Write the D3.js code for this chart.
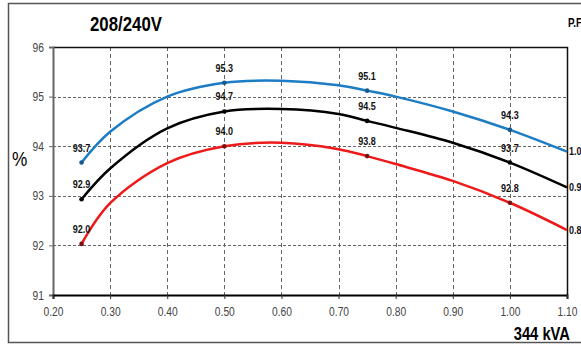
<!DOCTYPE html>
<html>
<head>
<meta charset="utf-8">
<script src="https://cdn.jsdelivr.net/npm/d3@7"></script>
<style>
    body { margin: 0; background: #fff; }
    svg text { font-family: "Liberation Sans Narrow", "Arial Narrow", "Liberation Sans", Arial, sans-serif; }
</style>
</head>
<body>
<svg id="chart" width="581" height="345"></svg>
<script>
const loads = [0.25, 0.30, 0.40, 0.50, 0.60, 0.70, 0.75, 0.80, 0.90, 1.00, 1.10]
// loads that carry a marker and a value label
const labelled = [0.25, 0.50, 0.75, 1.00]

// efficiency % per power factor
const pf10 = [93.67, 94.29, 95.00, 95.28, 95.32, 95.23, 95.12, 95.00, 94.70, 94.33, 93.89]
const pf09 = [92.93, 93.55, 94.36, 94.70, 94.75, 94.65, 94.51, 94.37, 94.07, 93.67, 93.17]
const pf08 = [92.03, 92.85, 93.66, 94.00, 94.07, 93.94, 93.80, 93.64, 93.30, 92.86, 92.31]
const pointLabels = [
    ['93.7', '95.3', '95.1', '94.3'],
    ['92.9', '94.7', '94.5', '93.7'],
    ['92.0', '94.0', '93.8', '92.8']
]

const seriesNames = ['1.0', '0.9', '0.8']
const seriesColours = ['#1c7cc4', '#000000', '#ee1a1a']
const markerColours = ['#155a8c', '#000000', '#7a1010']

const xTicks = [0.2, 0.3, 0.4, 0.5, 0.6, 0.7, 0.8, 0.9, 1.0, 1.1]
const yTicks = [91, 92, 93, 94, 95, 96]

const svg = d3.select('#chart')

const x = d3.scaleLinear().domain([0.2, 1.1]).range([53, 567])
const y = d3.scaleLinear().domain([91, 96]).range([295, 47])

// squeeze text horizontally around its anchor (no narrow font installed)
const narrow = (sel, k = 0.82) => sel.each(function () {
    const t = d3.select(this)
    const tx = +t.attr('x') || 0
    t.attr('transform', `translate(${tx * (1 - k)},0) scale(${k},1)`)
})

// outer frame
svg.append('rect')
    .attr('x', 8.5).attr('y', 3.5)
    .attr('width', 590).attr('height', 339)
    .attr('fill', 'none')
    .attr('stroke', '#555')
    .attr('stroke-width', 1.5)

// grid
svg.append('g')
    .selectAll('line')
    .data(yTicks.slice(1, -1))
    .join('line')
    .attr('x1', x(0.2)).attr('x2', x(1.1))
    .attr('y1', d => Math.round(y(d)) + 0.5).attr('y2', d => Math.round(y(d)) + 0.5)
    .attr('stroke', '#666').attr('stroke-dasharray', '3,2')

svg.append('g')
    .selectAll('line')
    .data(xTicks.slice(1, -1))
    .join('line')
    .attr('x1', d => Math.round(x(d)) + 0.5).attr('x2', d => Math.round(x(d)) + 0.5)
    .attr('y1', y(96)).attr('y2', y(91))
    .attr('stroke', '#666').attr('stroke-dasharray', '4,3')

// top and right frame of plot
svg.append('path')
    .attr('d', `M${x(0.2)},${y(96) + 0.5}H${x(1.1) + 0.5}V${y(91)}`)
    .attr('fill', 'none')
    .attr('stroke', '#111')
    .attr('stroke-width', 1.5)

// axes
svg.append('g')
    .attr('transform', `translate(${x(0.2)},0)`)
    .call(d3.axisLeft(y).tickValues(yTicks).tickSize(4).tickPadding(5).tickFormat(d3.format('d')))
    .call(g => g.select('.domain').attr('stroke', '#666').attr('stroke-width', 2))
    .call(g => g.selectAll('.tick line').attr('stroke', '#666'))
    .call(g => g.selectAll('text').attr('fill', '#444').style('font-size', '12.5px').call(narrow))

svg.append('g')
    .attr('transform', `translate(0,${y(91)})`)
    .call(d3.axisBottom(x).tickValues(xTicks).tickSize(4).tickPadding(8).tickFormat(d3.format('.2f')))
    .call(g => g.select('.domain').attr('stroke', '#000').attr('stroke-width', 2))
    .call(g => g.selectAll('.tick line').attr('stroke', '#333'))
    .call(g => g.selectAll('text').attr('fill', '#444').style('font-size', '12.5px').call(narrow))

// curves
const allSeries = [pf10, pf09, pf08]
const line = d3.line()
    .x((d, i) => x(loads[i]))
    .y(d => y(d))
    .curve(d3.curveCatmullRom.alpha(0.5))

allSeries.forEach((values, s) => {
    svg.append('path')
        .datum(values)
        .attr('d', line)
        .attr('fill', 'none')
        .attr('stroke', seriesColours[s])
        .attr('stroke-width', 2.5)

    const pts = labelled.map((l, i) => ({ l, v: values[loads.indexOf(l)], t: pointLabels[s][i] }))

    svg.append('g')
        .selectAll('circle')
        .data(pts)
        .join('circle')
        .attr('cx', d => x(d.l)).attr('cy', d => y(d.v))
        .attr('r', 2.3)
        .attr('fill', markerColours[s])

    svg.append('g')
        .selectAll('text')
        .data(pts)
        .join('text')
        .attr('x', d => x(d.l)).attr('y', d => y(d.v) - 11)
        .attr('text-anchor', 'middle')
        .style('font-size', '11px')
        .style('font-weight', 'bold')
        .attr('fill', '#111')
        .text(d => d.t)
        .call(narrow)

    svg.append('text')
        .attr('x', x(1.1) + 2)
        .attr('y', y(values[values.length - 1]))
        .attr('dy', '0.35em')
        .style('font-size', '11px')
        .style('font-weight', 'bold')
        .attr('fill', '#111')
        .text(seriesNames[s])
        .call(narrow)
})

// titles
svg.append('text')
    .attr('x', 90).attr('y', 31)
    .style('font-size', '20.5px').style('font-weight', 'bold')
    .text('208/240V')
    .call(narrow)

svg.append('text')
    .attr('x', 568).attr('y', 27)
    .style('font-size', '12px').style('font-weight', 'bold')
    .text('P.F')
    .call(narrow)

svg.append('text')
    .attr('x', 12).attr('y', 166)
    .style('font-size', '21px')
    .text('%')
    .call(narrow)

svg.append('text')
    .attr('x', 570).attr('y', 340)
    .attr('text-anchor', 'end')
    .style('font-size', '18px').style('font-weight', 'bold')
    .text('344 kVA')
    .call(narrow)
</script>
</body>
</html>
